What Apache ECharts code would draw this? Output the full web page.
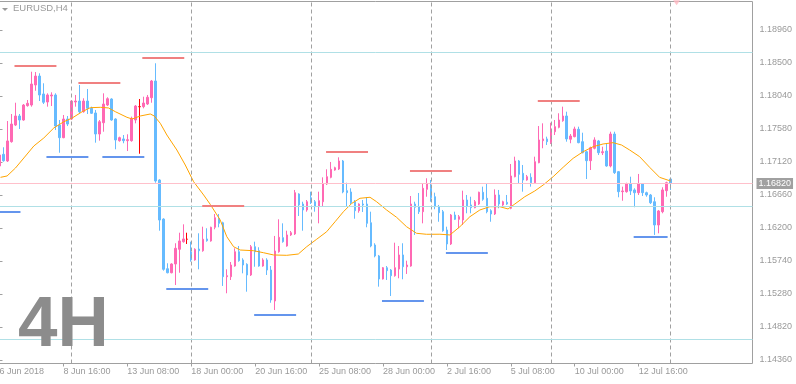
<!DOCTYPE html>
<html>
<head>
<meta charset="utf-8">
<script src="https://cdn.jsdelivr.net/npm/echarts@6/dist/echarts.min.js"></script>
<style>
html,body{margin:0;padding:0;background:#fff;}
#c{width:796px;height:384px;}
</style>
</head>
<body>
<div id="c"></div>
<script>
// ---- data ----
const symbolTitle = 'EURUSD,H4';
const watermark = '4H';
// x-axis labels, one every 16 bars starting at bar 0
const dateLabels = ['6 Jun 2018','8 Jun 16:00','13 Jun 08:00','18 Jun 00:00','20 Jun 16:00','25 Jun 08:00','28 Jun 00:00','2 Jul 16:00','5 Jul 08:00','10 Jul 00:00','12 Jul 16:00'];
const totalSlots = 189; // 169 bars + empty space to the right
const yTicks = [1.14360,1.14820,1.15280,1.15740,1.16200,1.16660,1.17120,1.17580,1.18040,1.18500,1.18960];
// [open, close, low, high]
const candles = [
[1.17064,1.17217,1.17008,1.17287],[1.17227,1.17138,1.17124,1.17325],[1.17134,1.17413,1.17120,1.17691],[1.17403,1.17649,1.17389,1.17789],
[1.17635,1.17761,1.17621,1.17946],[1.17761,1.17705,1.17580,1.17789],[1.17705,1.17914,1.17695,1.17928],[1.17905,1.17938,1.17891,1.17984],
[1.17914,1.18207,1.17891,1.18378],[1.18193,1.18318,1.18113,1.18374],[1.18318,1.18054,1.17970,1.18356],[1.18068,1.17952,1.17928,1.18217],
[1.17956,1.18054,1.17891,1.18077],[1.18040,1.18054,1.17900,1.18091],[1.18054,1.17621,1.17566,1.18077],[1.17635,1.17459,1.17249,1.17705],
[1.17459,1.17719,1.17451,1.17775],[1.17719,1.17649,1.17621,1.17761],[1.17719,1.17970,1.17705,1.17984],[1.17956,1.17970,1.17891,1.18054],
[1.17970,1.17821,1.17799,1.18193],[1.17821,1.17970,1.17807,1.18008],[1.17970,1.17868,1.17789,1.18137],[1.17868,1.17799,1.17789,1.17891],
[1.17803,1.17510,1.17389,1.17845],[1.17510,1.17681,1.17417,1.17705],[1.17667,1.17928,1.17542,1.18077],[1.17914,1.18002,1.17900,1.18022],
[1.17998,1.17705,1.17695,1.18008],[1.17719,1.17427,1.17297,1.17729],[1.17417,1.17459,1.17403,1.17473],[1.17441,1.17417,1.17381,1.17496],
[1.17417,1.17431,1.17273,1.17506],[1.17417,1.17729,1.17403,1.17752],[1.17705,1.17900,1.17659,1.17914],[1.17891,1.17891,1.17235,1.17998],
[1.17891,1.17942,1.17868,1.18030],[1.17928,1.18022,1.17914,1.18054],[1.18016,1.18249,1.17946,1.18263],[1.18249,1.16855,1.16831,1.18496],
[1.16869,1.16311,1.16162,1.16879],[1.16325,1.15624,1.15605,1.16335],[1.15632,1.15576,1.15568,1.15708],[1.15576,1.15698,1.15568,1.15708],
[1.15698,1.15917,1.15405,1.15987],[1.15903,1.16019,1.15576,1.16134],[1.16009,1.16047,1.15995,1.16251],[1.16043,1.16043,1.15977,1.16134],
[1.15865,1.15754,1.15730,1.16009],[1.15754,1.15903,1.15744,1.15917],[1.15907,1.15883,1.15624,1.16126],[1.15883,1.16043,1.15869,1.16218],
[1.16047,1.16023,1.16009,1.16196],[1.16019,1.16210,1.16009,1.16218],[1.16210,1.16343,1.16182,1.16395],[1.16335,1.16265,1.16210,1.16395],
[1.16273,1.15521,1.15392,1.16287],[1.15521,1.15535,1.15290,1.15624],[1.15521,1.15684,1.15475,1.15726],[1.15670,1.15869,1.15660,1.15917],
[1.15869,1.15744,1.15730,1.15949],[1.15754,1.15684,1.15568,1.15778],[1.15694,1.15545,1.15312,1.15708],[1.15545,1.15939,1.15531,1.15963],
[1.15939,1.15869,1.15660,1.16009],[1.15883,1.15670,1.15660,1.15931],[1.15670,1.15754,1.15660,1.15778],[1.15754,1.15614,1.15545,1.15778],
[1.15614,1.15196,1.15158,1.15670],[1.15182,1.15879,1.15057,1.16089],[1.15869,1.16070,1.15855,1.16321],[1.16065,1.16009,1.15995,1.16265],
[1.15949,1.16103,1.15939,1.16162],[1.16103,1.16134,1.16089,1.16158],[1.16117,1.16692,1.16103,1.16730],[1.16674,1.16521,1.16367,1.16684],
[1.16534,1.16451,1.16162,1.16566],[1.16451,1.16566,1.16427,1.16590],[1.16622,1.16552,1.16534,1.16706],[1.16566,1.16497,1.16427,1.16590],
[1.16497,1.16580,1.16265,1.16706],[1.16566,1.16813,1.16497,1.16906],[1.16813,1.16915,1.16799,1.17018],[1.16906,1.17018,1.16893,1.17120],
[1.17008,1.17040,1.16998,1.17054],[1.17022,1.17134,1.17008,1.17185],[1.17134,1.16702,1.16684,1.17148],[1.16720,1.16692,1.16497,1.16831],
[1.16702,1.16552,1.16534,1.16753],[1.16566,1.16441,1.16329,1.16590],[1.16441,1.16534,1.16413,1.16544],[1.16534,1.16521,1.16423,1.16590],
[1.16534,1.16265,1.16210,1.16628],[1.16273,1.15949,1.15931,1.16427],[1.15963,1.15810,1.15791,1.15987],[1.15810,1.15489,1.15382,1.15824],
[1.15489,1.15646,1.15482,1.15656],[1.15646,1.15605,1.15475,1.15670],[1.15614,1.15535,1.15252,1.15628],[1.15535,1.15646,1.15521,1.15995],
[1.15628,1.15824,1.15499,1.15949],[1.15824,1.15660,1.15485,1.15987],[1.15660,1.15684,1.15559,1.15744],[1.15670,1.16534,1.15660,1.16646],
[1.16534,1.16489,1.16103,1.16566],[1.16497,1.16427,1.16395,1.16688],[1.16427,1.16753,1.16265,1.16823],[1.16739,1.16813,1.16636,1.16893],
[1.16753,1.16622,1.16566,1.16869],[1.16636,1.16497,1.16461,1.16692],[1.16497,1.16413,1.16287,1.16521],[1.16427,1.16162,1.16148,1.16451],
[1.16172,1.15977,1.15893,1.16218],[1.15977,1.16381,1.15963,1.16395],[1.16381,1.16321,1.16311,1.16427],[1.16321,1.16357,1.16196,1.16381],
[1.16311,1.16590,1.16242,1.16720],[1.16590,1.16507,1.16405,1.16660],[1.16521,1.16483,1.16405,1.16636],[1.16483,1.16566,1.16475,1.16590],
[1.16534,1.16698,1.16521,1.16706],[1.16698,1.16600,1.16580,1.16776],[1.16614,1.16427,1.16405,1.16813],[1.16441,1.16395,1.16287,1.16461],
[1.16395,1.16660,1.16381,1.16739],[1.16660,1.16534,1.16475,1.16730],[1.16521,1.16566,1.16507,1.16580],[1.16558,1.16534,1.16521,1.16660],
[1.16475,1.16925,1.16461,1.17092],[1.16915,1.17134,1.16906,1.17194],[1.17134,1.16948,1.16823,1.17148],[1.16962,1.16869,1.16706,1.17078],
[1.16869,1.16915,1.16859,1.16939],[1.16906,1.16831,1.16776,1.16962],[1.16831,1.17124,1.16823,1.17194],[1.17110,1.17427,1.17102,1.17621],
[1.17417,1.17441,1.17311,1.17659],[1.17441,1.17403,1.17357,1.17473],[1.17389,1.17552,1.17371,1.17667],[1.17542,1.17612,1.17496,1.17705],
[1.17603,1.17705,1.17589,1.17799],[1.17695,1.17761,1.17681,1.17891],[1.17761,1.17441,1.17403,1.17821],[1.17437,1.17482,1.17381,1.17510],
[1.17473,1.17580,1.17464,1.17612],[1.17576,1.17389,1.17381,1.17612],[1.17403,1.17249,1.17241,1.17528],[1.17263,1.17138,1.16883,1.17277],
[1.17138,1.17319,1.17008,1.17333],[1.17311,1.17427,1.17297,1.17464],[1.17413,1.17249,1.17217,1.17427],[1.17249,1.17263,1.17217,1.17333],
[1.17273,1.17064,1.17054,1.17381],[1.17064,1.17510,1.17045,1.17542],[1.17510,1.16971,1.16953,1.17542],[1.16985,1.16706,1.16628,1.16994],
[1.16706,1.16716,1.16580,1.16776],[1.16706,1.16813,1.16692,1.16831],[1.16813,1.16716,1.16660,1.16915],[1.16730,1.16692,1.16489,1.16753],
[1.16692,1.16813,1.16660,1.16953],[1.16813,1.16692,1.16646,1.16823],[1.16692,1.16660,1.16636,1.16706],[1.16660,1.16552,1.16534,1.16674],
[1.16566,1.16242,1.16103,1.16628],[1.16242,1.16437,1.16126,1.16451],[1.16427,1.16730,1.16405,1.16767],[1.16720,1.16831,1.16636,1.16845],
[1.16883,1.16820,1.16730,1.16901]
];
// moving average: [bar index, price]
const maPoints = [
[0.25,1.16906],[1.9,1.16925],[4,1.17036],[6.1,1.17176],[8.6,1.17343],[11.1,1.17455],[13.6,1.17594],[16.1,1.17681],[18.2,1.17733],
[20.7,1.17821],[22.75,1.17877],[25.25,1.17882],[27.3,1.17873],[29,1.17821],[31.9,1.17743],[33.2,1.17719],[35.25,1.17761],[37.75,1.17789],
[38.75,1.17761],[40.25,1.17659],[41.9,1.17496],[44.4,1.17287],[46.5,1.17078],[48.6,1.16845],[51.1,1.16660],[52.75,1.16530],[55.25,1.16311],
[56.9,1.16079],[58.6,1.15939],[60.25,1.15893],[63.6,1.15883],[66.1,1.15855],[68.6,1.15824],[71.9,1.15819],[74.8,1.15837],[76.9,1.15939],
[79.4,1.16043],[81.9,1.16148],[84,1.16287],[86.1,1.16427],[88.2,1.16544],[90.25,1.16614],[92.75,1.16628],[94.4,1.16566],[96.9,1.16451],
[99.4,1.16349],[101.9,1.16218],[104.4,1.16126],[106.9,1.16112],[110.25,1.16113],[112.75,1.16103],[115.25,1.16218],[117.75,1.16357],
[120.25,1.16451],[122.75,1.16497],[125.25,1.16497],[127.3,1.16465],[129,1.16534],[131.5,1.16636],[134,1.16716],[136.1,1.16799],
[138.6,1.16915],[141.1,1.17046],[143.6,1.17171],[146.1,1.17263],[148.6,1.17333],[151.1,1.17371],[153.6,1.17389],[155.7,1.17357],
[157.75,1.17287],[160.25,1.17194],[162.75,1.17046],[165.25,1.16906],[167.75,1.16859],[168,1.16855]
];
// short swing-level segments: [from bar, to bar, price]
const highSegments = [[3.75,14.25,1.18458],[19.75,30.25,1.18221],[35.75,46.25,1.18569],[50.75,61.25,1.16507],[81.75,92.25,1.17259],[102.75,113.25,1.16994],[134.75,145.25,1.17970]];
const lowSegments = [[-0.5,5.25,1.16427],[11.75,22.25,1.17194],[25.75,36.25,1.17194],[41.75,52.25,1.15354],[63.75,74.25,1.14991],[95.75,106.25,1.15187],[111.75,122.25,1.15856],[158.75,167.25,1.16079]];
const levelLines = [1.18649, 1.16507, 1.14648];
const bidPrice = 1.16820;
const weekStartBars = [18, 48, 78, 108, 138, 168];
const markerBar = 169.5, markerPrice = 1.19340;

// ---- chart ----
const chart = echarts.init(document.getElementById('c'), null, {renderer: 'canvas'});
const grey = '#a0a0a0';
const txt = '#9a9a9a';
const font = 'Liberation Sans';
const cats = Array.from({length: totalSlots}, (_, i) => String(i));
const labelAt = (i) => i % 16 === 0 && (i / 16) < dateLabels.length;

const segLines = (segs) => segs.map(s => [{coord: [s[0], s[2]]}, {coord: [s[1], s[2]]}]);

const option = {
  animation: false,
  backgroundColor: '#ffffff',
  title: [
    {text: symbolTitle, left: 13, top: 3, padding: 0, textStyle: {fontSize: 9.5, fontWeight: 'normal', color: txt, fontFamily: font}},
    {text: watermark, left: 18, top: 291, padding: 0, textStyle: {fontSize: 71, fontWeight: 'bold', color: '#8c8c8c', fontFamily: font}}
  ],
  graphic: [
    {type: 'polygon', shape: {points: [[2, 8], [8, 8], [5, 11]]}, style: {fill: txt}, silent: true}
  ],
  grid: {left: -2.5, right: 43.5, top: 1.5, bottom: 20.5, show: true, borderColor: grey, borderWidth: 1, backgroundColor: 'transparent', containLabel: false, outerBoundsMode: 'none'},
  xAxis: [
    {
      type: 'category', data: cats, boundaryGap: true,
      axisLine: {show: false},
      axisTick: {show: true, alignWithLabel: true, interval: (i) => labelAt(i), length: 3, lineStyle: {color: grey}},
      axisLabel: {show: true, interval: (i) => labelAt(i), formatter: (v, i) => dateLabels[i / 16] || '', align: 'left', color: txt, fontSize: 9, fontFamily: font, margin: 4, hideOverlap: false},
      splitLine: {show: false}
    },
    {type: 'value', min: -0.5, max: totalSlots - 0.5, show: false, splitLine: {show: false}}
  ],
  yAxis: {
    type: 'value', position: 'right', min: 1.14311, max: 1.19357, scale: true,
    axisLine: {show: false},
    axisTick: {show: true, customValues: yTicks, length: 3, lineStyle: {color: grey}},
    axisLabel: {show: true, customValues: yTicks, formatter: (v) => v.toFixed(5), color: txt, fontSize: 9, fontFamily: font, margin: 7},
    splitLine: {show: false}
  },
  series: [
    {
      type: 'line', xAxisIndex: 1, data: [], silent: true, z: 1,
      markLine: {
        silent: true, symbol: 'none', animation: false, precision: 6,
        label: {show: false},
        data: [
          ...weekStartBars.map(b => ({xAxis: b, lineStyle: {color: grey, type: [4, 3], width: 1}})),
          ...levelLines.map(p => ({yAxis: p, lineStyle: {color: '#b0e0e6', type: 'solid', width: 1}})),
          {yAxis: bidPrice, lineStyle: {color: '#ffc0cb', type: 'solid', width: 1},
            label: {show: true, position: 'end', distance: 4, formatter: bidPrice.toFixed(5), color: '#ffffff', backgroundColor: '#a0a0a0', fontSize: 9, fontFamily: font, padding: [1, 2, 1, 2]}}
        ]
      }
    },
    {
      type: 'candlestick', xAxisIndex: 0, data: candles, barWidth: 2, z: 2,
      itemStyle: {color: '#ff69b4', color0: '#66bbff', borderColor: '#ff69b4', borderColor0: '#66bbff', borderColorDoji: '#ff0000', borderWidth: 1}
    },
    {
      type: 'line', xAxisIndex: 1, data: maPoints, symbol: 'none', smooth: false, z: 3,
      lineStyle: {color: '#ffa500', width: 1}
    },
    {
      type: 'line', xAxisIndex: 1, data: [], silent: true, z: 4,
      markLine: {silent: true, symbol: 'none', precision: 6, label: {show: false}, lineStyle: {color: '#f08080', width: 2, type: 'solid'}, data: segLines(highSegments)}
    },
    {
      type: 'line', xAxisIndex: 1, data: [], silent: true, z: 4,
      markLine: {silent: true, symbol: 'none', precision: 6, label: {show: false}, lineStyle: {color: '#6495ed', width: 2, type: 'solid'}, data: segLines(lowSegments)}
    },
    {
      type: 'scatter', xAxisIndex: 1, data: [[markerBar, markerPrice]], symbol: 'triangle', symbolRotate: 180, symbolSize: [7, 5], z: 5,
      itemStyle: {color: '#ffb6c1'}, silent: true
    }
  ]
};
chart.setOption(option);
</script>
</body>
</html>
